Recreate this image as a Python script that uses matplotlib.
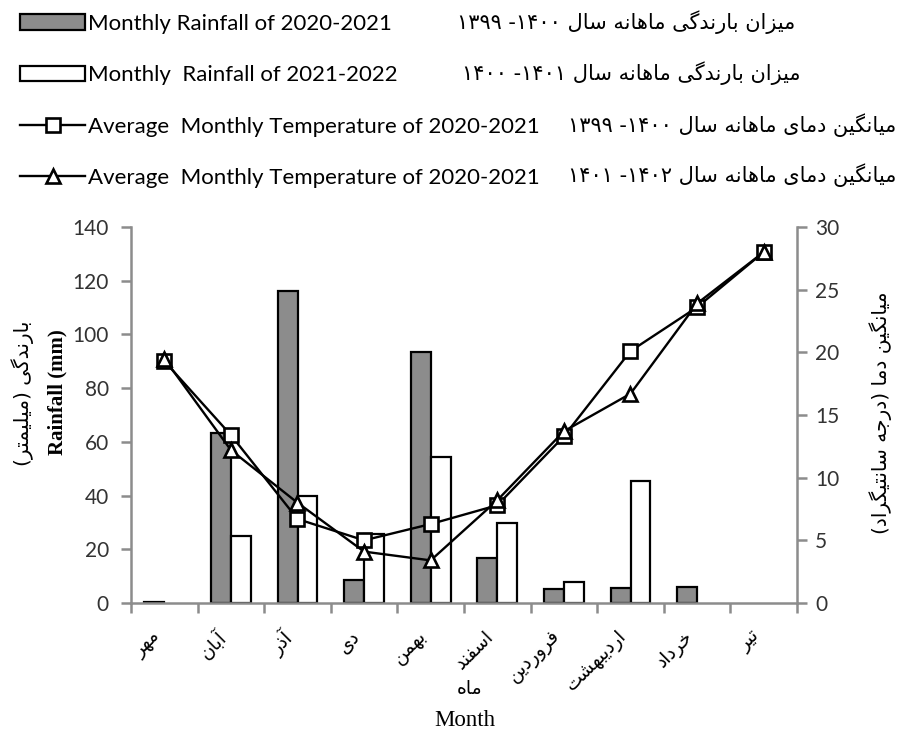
import numpy as np
import matplotlib
matplotlib.use('Agg')
import matplotlib.pyplot as plt
from matplotlib import font_manager, ft2font

# months (Persian calendar) and values
months = ['مهر', 'آبان', 'آذر', 'دی', 'بهمن', 'اسفند', 'فروردین', 'اردیبهشت', 'خرداد', 'تیر']
rain_2020 = [0.5, 63.4, 116.2, 8.6, 93.6, 16.6, 5.2, 5.7, 6.1, np.nan]
rain_2021 = [np.nan, 24.9, 39.8, 25.7, 54.5, 29.7, 7.7, 45.4, np.nan, np.nan]
temp_2020 = [19.3, 13.4, 6.7, 5.0, 6.3, 7.8, 13.3, 20.1, 23.6, 28.0]
temp_2022 = [19.5, 12.2, 8.0, 4.1, 3.4, 8.2, 13.7, 16.7, 23.9, 28.0]

legend_en = ['Monthly Rainfall of 2020-2021',
             'Monthly  Rainfall of 2021-2022',
             'Average  Monthly Temperature of 2020-2021',
             'Average  Monthly Temperature of 2020-2021']
legend_fa = ['میزان بارندگی ماهانه سال', 'میزان بارندگی ماهانه سال',
             'میانگین دمای ماهانه سال', 'میانگین دمای ماهانه سال']
legend_years = [('۱۳۹۹', '۱۴۰۰'), ('۱۴۰۰', '۱۴۰۱'), ('۱۳۹۹', '۱۴۰۰'), ('۱۴۰۱', '۱۴۰۲')]

# --- tiny arabic-script shaper (matplotlib has no text shaping) ---
dv = ft2font.FT2Font(font_manager.findfont('DejaVu Sans'))
cmap = dv.get_charmap()

def has(c):
    return ord(c) in cmap

FORMS = {
    'ا': ('\uFE8D', '\uFE8E', None, None),
    'آ': ('\uFE81', '\uFE82', None, None),
    'ب': ('\uFE8F', '\uFE90', '\uFE91', '\uFE92'),
    'ت': ('\uFE95', '\uFE96', '\uFE97', '\uFE98'),
    'ج': ('\uFE9D', '\uFE9E', '\uFE9F', '\uFEA0'),
    'خ': ('\uFEA5', '\uFEA6', '\uFEA7', '\uFEA8'),
    'د': ('\uFEA9', '\uFEAA', None, None),
    'ذ': ('\uFEAB', '\uFEAC', None, None),
    'ر': ('\uFEAD', '\uFEAE', None, None),
    'ز': ('\uFEAF', '\uFEB0', None, None),
    'س': ('\uFEB1', '\uFEB2', '\uFEB3', '\uFEB4'),
    'ش': ('\uFEB5', '\uFEB6', '\uFEB7', '\uFEB8'),
    'ف': ('\uFED1', '\uFED2', '\uFED3', '\uFED4'),
    'ل': ('\uFEDD', '\uFEDE', '\uFEDF', '\uFEE0'),
    'م': ('\uFEE1', '\uFEE2', '\uFEE3', '\uFEE4'),
    'ن': ('\uFEE5', '\uFEE6', '\uFEE7', '\uFEE8'),
    'ه': ('\uFEE9', '\uFEEA', '\uFEEB', '\uFEEC'),
    'و': ('\uFEED', '\uFEEE', None, None),
    '\u06cc': ('\uFBFC', '\uFBFD', '\uFBFE', '\uFBFF'),
    '\u06af': ('\uFB92', '\uFB93', '\uFB94', '\uFB95'),
}
if not has('\uFBFC'):
    FORMS['\u06cc'] = ('\uFEEF', '\uFEF0', '\uFEF3', '\uFEF4')
if not has('\uFB92'):
    FORMS['\u06af'] = ('\uFED9', '\uFEDA', '\uFEDB', '\uFEDC')
MIRROR = {'(': ')', ')': '('}

def fa(text):
    text = text.replace('\u064a', '\u06cc').replace('\u0649', '\u06cc')
    out = []
    for i, ch in enumerate(text):
        f = FORMS.get(ch)
        if f is None:
            out.append(MIRROR.get(ch, ch))
            continue
        prev = text[i - 1] if i > 0 else ''
        nxt = text[i + 1] if i + 1 < len(text) else ''
        jp = prev in FORMS and FORMS[prev][2] is not None
        jn = f[2] is not None and nxt in FORMS
        if jp and jn:
            out.append(f[3])
        elif jp:
            out.append(f[1])
        elif jn:
            out.append(f[2])
        else:
            out.append(f[0])
    return ''.join(reversed(out))

def digits(s):
    if has('\u06f4'):
        return s
    return ''.join(chr(ord(c) - 0x06F0 + 0x0660) for c in s)

fa_font = 'DejaVu Sans'
num_font = 'Lato'
grey = '#8c8c8c'

fig = plt.figure(figsize=(8.98, 7.31), dpi=100)
ax = fig.add_axes([131 / 898, 128 / 731, 666 / 898, 376 / 731])
x = np.arange(len(months))
w = 0.3

b1 = ax.bar(x - w / 2, rain_2020, w, color=grey, edgecolor='black', linewidth=1.6)
b2 = ax.bar(x + w / 2, rain_2021, w, color='white', edgecolor='black', linewidth=1.6)
ax.set_ylim(0, 140)
ax.set_xlim(-0.5, 9.5)
ax.set_yticks(np.arange(0, 141, 20))

ax2 = ax.twinx()
l1, = ax2.plot(x, temp_2020, color='black', lw=1.7, marker='s', ms=9.5,
               mfc='white', mec='black', mew=1.9)
l2, = ax2.plot(x, temp_2022, color='black', lw=1.7, marker='^', ms=9.5,
               mfc='white', mec='black', mew=1.9)
ax2.set_ylim(0, 30)
ax2.set_yticks(np.arange(0, 31, 5))

for a in (ax, ax2):
    for s in a.spines.values():
        s.set_visible(False)
ax.spines['left'].set_visible(True)
ax.spines['bottom'].set_visible(True)
ax2.spines['right'].set_visible(True)
for s in (ax.spines['left'], ax.spines['bottom'], ax2.spines['right']):
    s.set_color(grey)
    s.set_linewidth(1.8)

ax.set_xticks(np.arange(-0.5, 10, 1))
ax.set_xticklabels([])
ax.set_xticks(x, minor=True)
ax.set_xticklabels([fa(m) for m in months], minor=True, rotation=45, ha='right',
                   fontsize=13.5, family=fa_font)
ax.tick_params(axis='x', which='major', length=7, width=1.8, color=grey, direction='out')
ax.tick_params(axis='x', which='minor', length=0, pad=17)
ax.tick_params(axis='y', length=7, width=1.8, color=grey, pad=9,
               labelsize=15, labelcolor='#333333')
ax2.tick_params(axis='y', length=7, width=1.8, color=grey, pad=6,
                labelsize=15, labelcolor='#333333')
for lab in ax.get_yticklabels() + ax2.get_yticklabels():
    lab.set_family(num_font)

# axis titles
fig.text(23 / 898, 1 - 393 / 731, fa('بارندگی (میلیمتر)'), rotation=90,
         ha='center', va='center', fontsize=14.5, family=fa_font)
fig.text(57 / 898, 1 - 392 / 731, 'Rainfall (mm)', rotation=90, ha='center',
         va='center', fontsize=15, family='Liberation Serif', weight='bold')
fig.text(881 / 898, 1 - 413 / 731, fa('میانگین دما (درجه سانتیگراد)'), rotation=90,
         ha='center', va='center', fontsize=14.5, family=fa_font)
fig.text(470 / 898, 1 - 688 / 731, fa('ماه'), ha='center', va='center',
         fontsize=13.5, family=fa_font)
fig.text(465 / 898, 1 - 721 / 731, 'Month', ha='center', va='center',
         fontsize=16.5, family='Liberation Serif')

# legend rows
fig.legend([b1, b2, l1, l2], legend_en, loc='upper left',
           bbox_to_anchor=(20 / 898, 1 - 14 / 731), frameon=False,
           borderaxespad=0, borderpad=0, prop={'family': num_font, 'size': 16},
           handlelength=2.93, handleheight=0.72, handletextpad=0.13,
           labelspacing=1.41, numpoints=1)

row_y = [22, 73, 125, 175]
row_right = [795, 800, 896, 896]
for yy, rr, txt, (y0, y1) in zip(row_y, row_right, legend_fa, legend_years):
    fig.text(rr / 898, 1 - yy / 731, digits(y0) + ' -' + digits(y1) + ' ' + fa(txt),
             ha='right', va='center', fontsize=15, family=fa_font)

fig.savefig('out.png', dpi=100)
